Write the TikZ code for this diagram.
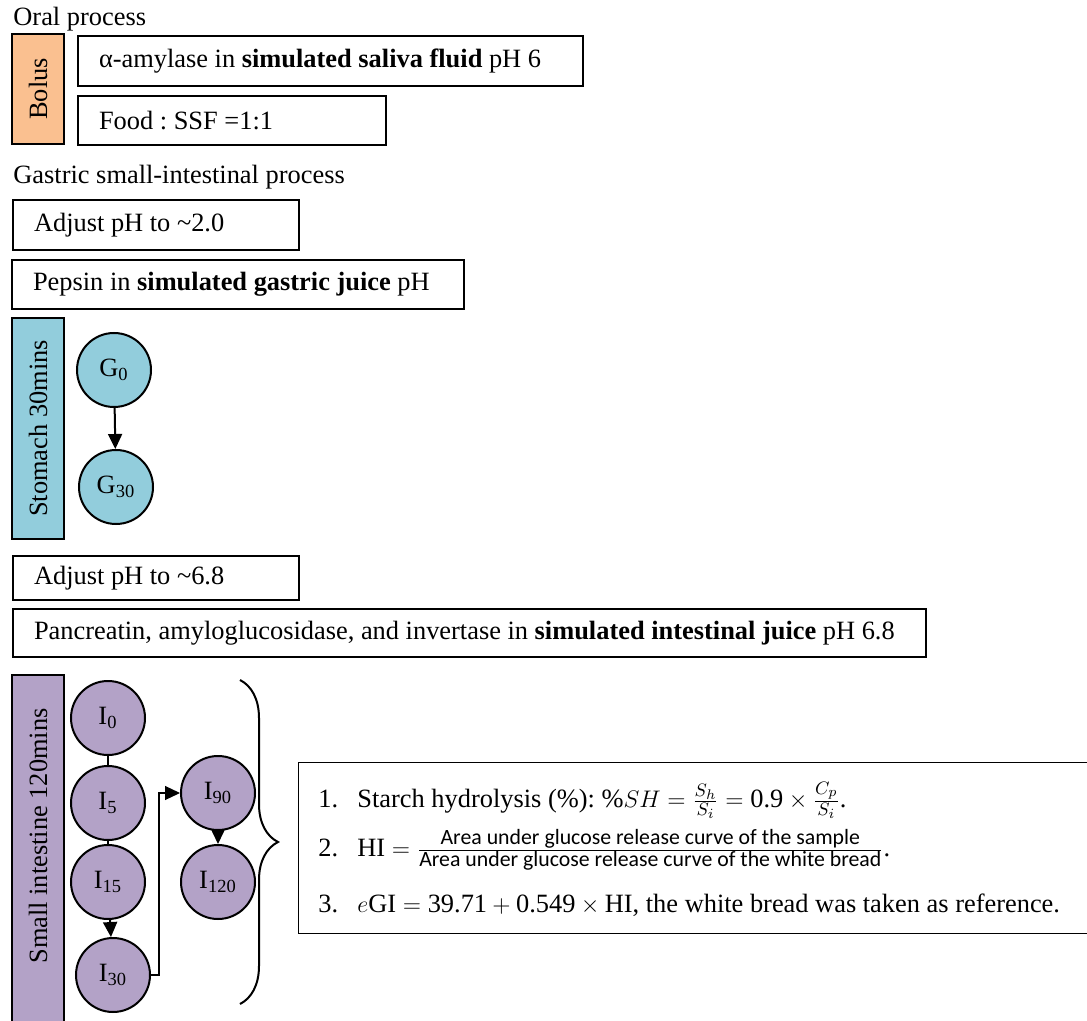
\documentclass[tikz,border=0pt]{standalone}
\usepackage{amsmath}
\usepackage{fontspec}
\setmainfont{Liberation Serif}
\newfontfamily\carlito{Carlito}
\usepackage{tikz}
\usetikzlibrary{arrows.meta, decorations.pathreplacing}
\frenchspacing

\definecolor{bolusfill}{HTML}{FAC090}
\definecolor{stomachfill}{HTML}{92CDDC}
\definecolor{intestinefill}{HTML}{B3A2C7}

\tikzset{
  stepbox/.style={draw, line width=1pt, anchor=north west, inner xsep=10.5pt, inner ysep=0pt},
  sidebar/.style={draw, line width=1pt, rotate=90, minimum height=26pt, inner sep=0pt},
  tpoint/.style={circle, draw, line width=1pt, minimum size=37pt, inner sep=0pt},
  flow/.style={line width=1pt, -{Triangle[length=7.5pt,width=7pt]}},
  plain/.style={anchor=base west, inner sep=0pt}
}

\begin{document}
\begin{tikzpicture}[x=0.5pt, y=-0.5pt, font=\fontsize{13.2}{16}\selectfont]
\clip (0,0) rectangle (1087,1021);
\useasboundingbox (0,0) rectangle (1087,1021);

\node[plain] (oral) at (13,26) {Oral process};
\node[sidebar, fill=bolusfill, minimum width=55pt] (bolus) at (38,89) {Bolus};
\node[stepbox, minimum height=25pt] (saliva) at (77,35) {\makebox[231.5pt][l]{α-amylase in \textbf{simulated saliva fluid} pH 6}};
\node[stepbox, minimum height=24.5pt] (ratio) at (77,95) {\makebox[133pt][l]{Food : SSF =1:1}};

\node[plain] (gastric) at (13,184) {Gastric small-intestinal process};
\node[stepbox, minimum height=25pt] (adjustlow) at (12,199) {\makebox[122pt][l]{Adjust pH to \textasciitilde2.0}};
\node[stepbox, minimum height=24.5pt] (pepsin) at (11,259) {\makebox[205pt][l]{Pepsin in \textbf{simulated gastric juice} pH}};

\node[sidebar, fill=stomachfill, minimum width=110.5pt] (stomach) at (38,428.5) {Stomach 30mins};
\node[tpoint, fill=stomachfill] (g0) at (114,370) {G\textsubscript{0}};
\node[tpoint, fill=stomachfill] (g30) at (116,487) {G\textsubscript{30}};
\draw[flow] (g0) -- (g30);

\node[stepbox, minimum height=22pt] (adjustmid) at (12,555) {\makebox[122pt][l]{Adjust pH to \textasciitilde6.8}};
\node[stepbox, minimum height=24pt] (pancreatin) at (12,608) {\makebox[435.5pt][l]{Pancreatin, amyloglucosidase, and invertase in \textbf{simulated intestinal juice} pH 6.8}};

\node[sidebar, fill=intestinefill, minimum width=180pt] (intestine) at (38,855) {};
\node[rotate=90] (intestinelbl) at (38,836) {Small intestine 120mins};
\foreach \n/\x/\y/\lab in {i0/108/718/0, i5/108/803/5, i15/108/882/15, i30/113/975/30, i90/218/793/90, i120/218/882/120} {
    \node[tpoint, fill=intestinefill] (\n) at (\x,\y) {I\textsubscript{\lab}};
}
\draw[line width=1pt] (i0) -- (i5);
\draw[line width=1pt] (i5) -- (i15);
\draw[flow] (i15) -- (i30);
\draw[line width=0.6pt, -{Triangle[length=7.5pt,width=7pt]}] (i30.east) -- ++(8,0) |- (i90.west);
\draw[flow, line width=0.75pt] (i90) -- (i120);

\draw[line width=1pt, decorate, decoration={brace, amplitude=19pt}] (240,680) -- (240,1004);

\node[draw, line width=0.6pt, anchor=north west, minimum width=420pt, minimum height=85.5pt, inner sep=0pt] (formulas) at (298,762) {};
\node[plain] (hydrolysis) at (318,807) {\makebox[19.5pt][l]{1.}Starch hydrolysis (\%): \%$SH=\frac{S_h}{S_i}=\text{0.9}\times\frac{C_p}{S_i}$.};
\node[plain] (hindex) at (318,856) {\makebox[19.5pt][l]{2.}HI${}=\frac{\text{\fontsize{10.9}{12}\selectfont\carlito Area under glucose release curve of the sample}}{\text{\fontsize{10.9}{12}\selectfont\carlito Area under glucose release curve of the white bread}}$.};
\node[plain] (egi) at (318,912) {\makebox[19.5pt][l]{3.}$e$GI${}={}$39.71${}+{}$0.549${}\times{}$HI, the white bread was taken as reference.};
\end{tikzpicture}
\end{document}
